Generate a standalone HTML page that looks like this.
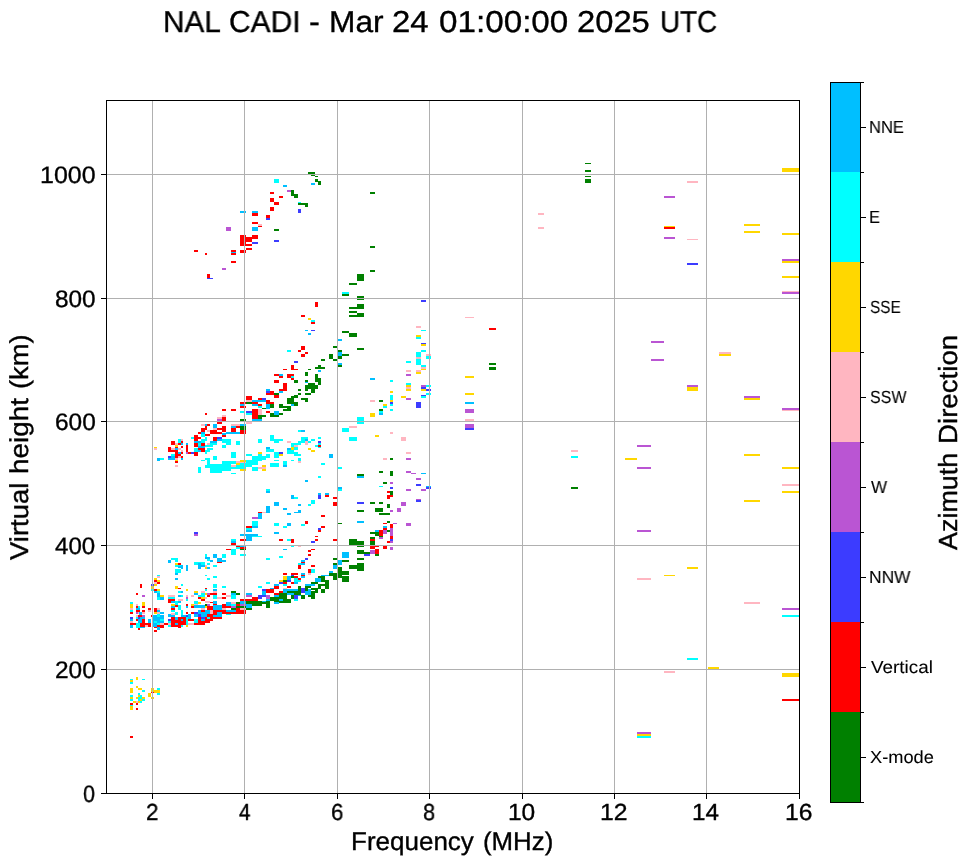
<!DOCTYPE html>
<html lang="en"><head><meta charset="utf-8"><title>NAL CADI - Mar 24 01:00:00 2025 UTC</title>
<style>
html,body{margin:0;padding:0;background:#fff;}
body{width:972px;height:865px;position:relative;overflow:hidden;font-family:"Liberation Sans",sans-serif;color:#000;}
.abs{position:absolute;}
.ln{position:absolute;background:#000;}
.gr{position:absolute;background:#b0b0b0;}
.t{position:absolute;white-space:nowrap;line-height:1;transform-origin:0 0;will-change:transform;text-rendering:geometricPrecision;-webkit-text-stroke:0.35px #000;}
.s{-webkit-text-stroke:0.1px #000;}
</style></head>
<body>
<!-- data -->
<svg class="abs" style="left:0;top:0" width="972" height="865" viewBox="0 0 972 865" shape-rendering="crispEdges">
<path fill="#008000" d="M291 190H294V196H291zM294 194H298V198H294zM274 229H279V231H274zM308 172H315V174H308zM311 175H315V176H311zM315 176H318V177H315zM315 179H318V182H315zM318 181H321V185H318zM370 192H375V194H370zM305 205H308V207H305zM370 246H375V248H370zM370 270H375V272H370zM357 274H364V281H357zM349 283H357V285H349zM342 294H349V296H342zM357 296H364V300H357zM357 304H364V309H357zM349 307H357V309H349zM349 311H357V313H349zM357 313H364V317H357zM349 315H357V317H349zM342 331H349V333H342zM349 333H357V337H349zM333 346H337V348H333zM357 348H360V350H357zM338 350H342V352H338zM342 354H349V356H342zM338 356H342V359H338zM329 354H333V359H329zM333 359H337V361H333zM321 359H325V361H321zM338 365H342V367H338zM308 369H311V370H308zM318 365H321V367H318zM315 367H325V369H315zM305 372H308V376H305zM315 374H318V378H315zM315 378H321V382H315zM318 382H321V385H318zM294 380H298V383H294zM305 380H308V382H305zM308 383H315V389H308zM305 385H318V389H305zM311 389H315V393H311zM305 393H311V395H305zM298 389H301V391H298zM305 389H308V391H305zM298 393H301V395H298zM274 393H279V395H274zM357 348H364V350H357zM379 400H383V402H379zM379 409H383V411H379zM390 458H393V460H390zM379 471H383V473H379zM390 471H393V476H390zM357 474H364V476H357zM383 482H387V484H383zM390 491H393V495H390zM370 502H375V504H370zM379 502H383V504H379zM387 504H390V508H387zM375 508H383V512H375zM357 510H364V512H357zM379 513H390V515H379zM340 523H342V524H340zM387 521H390V523H387zM387 530H390V532H387zM370 532H379V534H370zM375 534H379V536H375zM379 536H383V537H379zM370 537H375V539H370zM370 541H375V545H370zM349 539H357V545H349zM357 541H364V545H357zM357 546H364V547H357zM357 550H364V554H357zM364 552H370V554H364zM375 554H379V556H375zM357 558H364V560H357zM342 560H349V562H342zM357 563H364V571H357zM349 565H357V569H349zM340 571H349V575H340zM338 567H342V578H338zM342 576H349V582H342zM294 395H298V398H294zM291 396H294V399H291zM287 398H294V404H287zM301 398H308V400H301zM305 400H308V402H305zM294 402H298V406H294zM279 404H283V408H279zM283 406H291V408H283zM287 408H291V411H287zM283 409H287V411H283zM246 402H252V404H246zM270 404H274V408H270zM262 408H266V409H262zM270 413H274V417H270zM274 415H279V417H274zM279 413H283V415H279zM258 415H262V419H258zM262 415H266V417H262zM240 419H246V421H240zM240 426H246V430H240zM240 549H246V550H240zM338 523H342V524H338zM231 591H236V593H231zM236 593H240V595H236zM205 604H207V606H205zM236 602H240V604H236zM236 606H240V608H236zM231 608H236V610H231zM291 576H294V578H291zM298 586H301V595H298zM287 591H298V595H287zM279 593H287V601H279zM305 586H308V591H305zM308 586H311V588H308zM311 588H318V590H311zM315 590H318V593H315zM308 591H315V593H308zM311 593H315V599H311zM308 595H311V597H308zM311 582H318V584H311zM318 576H325V578H318zM321 578H325V582H321zM325 580H329V589H325zM318 584H325V586H318zM318 586H321V589H318zM321 589H325V593H321zM329 573H333V576H329zM333 573H337V580H333zM333 558H337V560H333zM333 563H337V565H333zM342 571H349V575H342zM349 565H357V569H349zM342 560H349V562H342zM270 597H279V601H270zM274 601H279V602H274zM279 601H291V603H279zM287 599H291V602H287zM291 595H294V599H291zM301 595H305V599H301zM246 601H262V606H246zM266 601H270V608H266zM262 602H266V604H262zM236 606H246V608H236zM246 608H252V610H246zM585 163H591V164H585zM585 170H591V172H585zM585 176H591V177H585zM585 179H591V183H585zM489 363H496V365H489zM489 367H496V370H489zM571 487H578V489H571z"/>
<path fill="#ff0000" d="M270 192H274V194H270zM279 196H283V198H279zM270 198H274V202H270zM274 202H279V205H274zM270 207H274V211H270zM252 213H258V216H252zM266 215H270V218H266zM252 222H258V224H252zM240 235H246V246H240zM246 237H252V241.5H246zM252 235H258V239H252zM246 244H252V246H246zM246 248H252V250H246zM240 250H246V253H240zM231 250H236V252H231zM231 253H236V255H231zM194 250H198V252H194zM205 253H207V255H205zM231 261H236V263H231zM207 274H210V278H207zM301 315H305V317H301zM315 302H318V307H315zM311 322H315V324H311zM301 346H305V350H301zM298 350H301V352H298zM305 352H308V354H305zM301 354H305V357H301zM291 365H294V370H291zM294 369H298V370H294zM283 369H287V370H283zM274 374H279V376H274zM279 376H283V378H279zM287 374H294V378H287zM291 378H294V380H291zM274 380H279V383H274zM283 383H287V391H283zM279 389H287V391H279zM270 391H274V395H270zM266 393H270V395H266zM387 491H390V493H387zM387 495H393V497H387zM387 497H390V499H387zM383 523H387V524H383zM390 524H393V528H390zM383 528H387V530H383zM379 530H383V536H379zM390 536H393V539H390zM387 541H390V543H387zM370 539H375V541H370zM370 546H375V549H370zM375 546H379V547H375zM383 546H387V549H383zM375 549H379V554H375zM274 395H279V398H274zM246 396H252V400H246zM258 398H262V400H258zM266 400H270V404H266zM270 402H274V404H270zM240 402H246V404H240zM252 402H258V404H252zM258 404H262V406H258zM240 406H246V408H240zM252 409H258V419H252zM266 411H270V413H266zM240 430H246V434H240zM318 445H321V447H318zM222 409H226V411H222zM231 409H236V411H231zM205 413H207V415H205zM222 417H226V421H222zM217 422H222V424H217zM207 424H210V426H207zM236 426H240V428H236zM231 428H236V432H231zM222 426H226V432H222zM217 428H222V430H217zM205 426H207V430H205zM201 428H205V432H201zM210 430H217V434H210zM217 432H222V434H217zM198 432H201V434H198zM205 434H210V436H205zM222 435H226V437H222zM194 435H198V441H194zM198 437H201V439H198zM213 437H217V441H213zM194 443H198V447H194zM201 443H205V447H201zM198 448H205V452H198zM194 452H198V456H194zM186 445H188V452H186zM188 452H191V454H188zM171 441H175V445H171zM178 443H181V445H178zM181 441H183V443H181zM181 446H183V448H181zM175 447H178V448H175zM168 447H171V452H168zM171 450H178V452H171zM175 452H178V458H175zM181 452H183V454H181zM178 454H181V456H178zM181 456H183V458H181zM175 461H178V463H175zM258 512H260V513H258zM246 526H252V528H246zM240 539H246V541H240zM231 543H236V545H231zM236 546H240V547H236zM240 547H246V549H240zM226 549H231V550H226zM325 495H329V497H325zM333 497H337V499H333zM333 502H337V506H333zM258 512H262V513H258zM321 515H325V517H321zM305 521H308V524H305zM321 526H325V528H321zM318 530H321V532H318zM315 536H318V537H315zM279 539H283V541H279zM291 539H294V543H291zM315 539H318V541H315zM333 539H337V541H333zM217 562H222V563H217zM178 563H181V565H178zM205 588H207V589H205zM154 580H157V582H154zM157 582H160V584H157zM154 589H157V591H154zM140 584H142V588H140zM136 593H138V595H136zM178 588H181V589H178zM168 599H175V603H168zM175 605H178V607H175zM171 608H175V610H171zM186 604H188V606H186zM186 612H188V614H186zM198 597H201V599H198zM201 599H205V601H201zM210 593H217V595H210zM207 595H210V597H207zM222 593H226V595H222zM222 597H226V599H222zM191 606H194V608H191zM210 602H213V603H210zM213 604H217V606H213zM207 606H213V612H207zM222 604H226V608H222zM236 604H240V606H236zM236 608H240V613H236zM226 606H231V608H226zM222 610H226V614H222zM213 610H222V615H213zM226 612H236V614H226zM191 612H194V614H191zM207 614H213V617H207zM205 617H213V621H205zM213 617H222V619H213zM198 617H201V625H198zM188 619H194V621H188zM201 621H205V625H201zM194 623H198V625H194zM205 621H210V623H205zM130 612H133V614H130zM130 623H136V625H130zM136 606H138V608H136zM136 610H140V612H136zM138 615H142V617H138zM136 619H138V621H136zM142 606H145V608H142zM142 610H145V612H142zM142 619H145V625H142zM145 623H151V625H145zM148 608H151V610H148zM151 615H154V617H151zM154 608H157V612H154zM164 623H168V625H164zM140 623H151V627H140zM138 628H140V630H138zM157 625H164V628H157zM154 627H157V628H154zM154 630H157V632H154zM171 625H181V627H171zM178 627H181V628H178zM151 692H154V693H151zM130 703H133V705H130zM136 703H138V705H136zM136 708H138V710H136zM130 736H133V738H130zM308 550H311V552H308zM311 549H315V550H311zM308 554H311V556H308zM301 562H305V563H301zM298 565H301V569H298zM311 565H315V567H311zM308 569H311V573H308zM283 573H287V575H283zM291 573H298V575H291zM301 575H305V576H301zM294 576H298V578H294zM283 582H287V584H283zM298 578H301V580H298zM291 582H294V584H291zM287 586H291V588H287zM274 586H279V589H274zM266 589H274V593H266zM279 591H283V593H279zM274 593H279V595H274zM252 597H258V601H252zM240 599H252V601H240zM236 610H246V614H236zM664 227H675V229H664zM782 699H799V701H782zM489 328H496V330H489z"/>
<path fill="#3c3cff" d="M298 209H301V213H298zM266 218H270V220H266zM252 242H258V244H252zM274 240H279V242H274zM207 278H213V279H207zM311 330H315V331H311zM294 361H298V363H294zM266 391H270V393H266zM421 300H426V302H421zM421 343H426V344H421zM421 387H426V389H421zM426 389H431V391H426zM421 395H426V396H421zM390 402H393V404H390zM416 402H421V408H416zM416 484H421V486H416zM390 487H393V489H390zM426 487H431V489H426zM416 500H421V502H416zM357 502H364V504H357zM390 539H393V541H390zM364 554H370V556H364zM262 398H266V400H262zM246 411H252V413H246zM318 441H321V443H318zM279 452H283V454H279zM217 437H222V439H217zM191 452H194V454H191zM194 532H198V534H194zM318 495H321V499H318zM318 528H321V530H318zM311 541H315V543H311zM151 584H154V586H151zM194 612H198V614H194zM198 614H201V617H198zM201 617H205V619H201zM186 615H188V617H186zM168 619H171V621H168zM130 617H133V619H130zM138 617H140V619H138zM305 558H308V560H305zM291 575H294V576H291zM287 580H291V582H287zM279 582H283V584H279zM262 589H266V591H262zM301 588H305V593H301zM258 595H266V597H258zM258 597H262V599H258zM294 595H298V599H294zM687 263H698V265H687zM465 428H474V430H465z"/>
<path fill="#ba55d3" d="M287 190H291V192H287zM226 227H231V231H226zM222 268H226V270H222zM406 374H411V376H406zM421 385H426V387H421zM406 398H411V400H406zM406 458H411V460H406zM406 471H411V473H406zM411 473H416V474H411zM416 478H421V480H416zM390 482H393V484H390zM406 489H411V491H406zM421 489H426V491H421zM416 499H421V500H416zM401 502H406V506H401zM390 510H393V512H390zM397 508H401V512H397zM393 523H397V524H393zM406 523H411V526H406zM390 528H393V536H390zM383 530H387V534H383zM379 537H383V539H379zM390 541H393V543H390zM390 547H393V550H390zM370 550H375V554H370zM217 419H222V421H217zM186 452H188V454H186zM194 534H198V536H194zM252 517H258V519H252zM142 595H145V597H142zM186 597H188V599H186zM207 593H210V595H207zM207 604H210V606H207zM231 606H236V608H231zM136 612H138V614H136zM142 615H145V617H142zM246 595H252V597H246zM266 595H270V599H266zM240 604H246V606H240zM664 196H675V198H664zM664 237H675V239H664zM782 259H799V261H782zM782 292H799V294H782zM651 341H664V343H651zM651 359H664V361H651zM687 385H698V387H687zM744 396H760V398H744zM782 408H799V409.5H782zM782 608H799V610H782zM637 732H651V734H637zM465 409H474V413H465zM465 424H474V428H465zM637 445H651V447H637zM637 467H651V469H637zM637 530H651V532H637z"/>
<path fill="#ffb6c1" d="M258 224H262V226H258zM416 326H421V328H416zM416 357H421V359H416zM426 354H431V356H426zM421 367H426V369H421zM406 370H411V372H406zM416 370H421V372H416zM406 387H411V389H406zM370 400H375V402H370zM353 426H357V428H353zM390 432H393V434H390zM401 437H406V441H401zM406 452H411V454H406zM383 458H387V460H383zM246 400H252V402H246zM258 409H262V415H258zM246 422H252V424H246zM287 441H291V443H287zM305 441H308V445H305zM294 445H298V447H294zM298 461H301V463H298zM258 467H266V469H258zM349 426H357V428H349zM222 415H226V417H222zM217 417H222V419H217zM201 424H205V426H201zM231 424H240V426H231zM213 428H217V430H213zM207 430H210V432H207zM207 443H210V445H207zM181 439H183V441H181zM175 443H178V445H175zM171 448H175V450H171zM178 448H181V450H178zM181 450H183V452H181zM178 456H181V458H178zM175 458H178V460H175zM175 465H178V467H175zM154 448H157V450H154zM236 461H240V463H236zM231 465H236V467H231zM262 512H266V513H262zM205 565H207V567H205zM213 591H217V593H213zM157 576H160V578H157zM154 582H157V584H154zM186 595H188V597H186zM178 599H183V601H178zM168 595H175V597H168zM191 595H194V597H191zM201 591H205V593H201zM205 597H207V599H205zM226 595H231V597H226zM217 597H222V599H217zM194 604H198V606H194zM205 601H210V603H205zM231 602H236V604H231zM222 608H226V610H222zM201 608H205V610H201zM168 623H171V625H168zM188 623H194V625H188zM130 608H133V610H130zM130 621H133V623H130zM136 604H138V606H136zM138 612H140V614H138zM136 615H138V617H136zM142 612H145V614H142zM148 610H151V612H148zM157 608H160V610H157zM157 612H160V614H157zM160 623H164V625H160zM136 701H138V703H136zM298 546H301V547H298zM308 573H311V575H308zM283 588H287V589H283zM240 608H246V610H240zM538 213H544V215H538zM538 227H544V229H538zM687 181H698V183H687zM687 239H698V240H687zM782 291H799V292H782zM719 352H731V354H719zM782 409.5H799V411H782zM782 484H799V486H782zM637 578H651V580H637zM744 602H760V604H744zM664 671H675V673H664zM465 317H474V318H465zM465 419H474V421H465zM571 450H578V452H571z"/>
<path fill="#ffd700" d="M308 318H311V320H308zM416 335H421V337H416zM421 344H426V346H421zM421 369H426V370H421zM416 372H421V374H416zM406 385H411V387H406zM406 389H411V391H406zM421 389H426V391H421zM390 391H393V393H390zM390 400H393V402H390zM401 396H406V398H401zM383 404H387V406H383zM370 413H375V417H370zM375 435H379V437H375zM291 447H294V450H291zM308 448H311V450H308zM311 450H315V452H311zM258 452H262V454H258zM279 454H283V456H279zM240 460H246V462H240zM262 465H266V467H262zM262 469H266V470H262zM240 469H246V470H240zM175 445H178V447H175zM175 460H178V461H175zM154 447H157V448H154zM236 463H240V465H236zM240 469H246V471H240zM262 469H266V471H262zM175 563H178V565H175zM205 567H207V569H205zM154 578H157V580H154zM157 580H160V582H157zM154 584H157V586H154zM151 586H154V589H151zM157 589H160V591H157zM160 595H164V597H160zM175 586H178V589H175zM186 589H188V591H186zM171 604H175V606H171zM194 591H198V593H194zM201 597H205V599H201zM205 593H207V595H205zM198 602H201V604H198zM191 604H194V606H191zM205 606H207V608H205zM130 604H133V608H130zM142 602H145V606H142zM154 612H157V614H154zM186 625H188V627H186zM130 680H133V682H130zM136 677H138V680H136zM136 686H138V688H136zM138 688H142V690H138zM130 688H133V693H130zM151 688H154V692H151zM154 690H160V693H154zM148 693H151V697H148zM151 697H154V699H151zM130 697H133V699H130zM138 695H140V697H138zM136 697H138V699H136zM142 697H145V699H142zM140 699H142V701H140zM133 701H136V703H133zM138 701H140V703H138zM130 706H133V710H130zM283 576H287V581H283zM279 580H283V582H279zM664 226H675V227H664zM782 168H799V172H782zM744 224H760V226H744zM744 231H760V233H744zM782 233H799V235H782zM782 261H799V263H782zM782 276H799V278H782zM719 354H731V356H719zM687 387H698V391H687zM744 398H760V400H744zM744 454H760V456H744zM782 467H799V469H782zM782 491H799V493H782zM744 500H760V502H744zM687 567H698V569H687zM664 575H675V576H664zM708 667H719V669H708zM782 673H799V677H782zM637 734H651V736H637zM465 376H474V378H465zM465 393H474V395H465zM625 458H637V460H625z"/>
<path fill="#00ffff" d="M274 179H279V183H274zM298 201.8H301V203H298zM342 292H349V294H342zM311 320H315V322H311zM287 350H291V352H287zM421 330H426V331H421zM416 337H421V339H416zM421 350H426V352H421zM416 352H421V357H416zM416 359H421V365H416zM426 356H431V359H426zM406 361H411V363H406zM421 365H426V367H421zM390 380H393V382H390zM406 383H411V385H406zM426 385H431V387H426zM426 393H431V395H426zM421 396H426V398H421zM390 395H393V400H390zM390 404H393V406H390zM390 409H393V411H390zM383 406H387V408H383zM379 411H383V413H379zM357 417H364V424H357zM353 437H357V441H353zM379 486H383V487H379zM258 406H262V408H258zM240 411H244V413H240zM246 413H252V415H246zM298 430H301V432H298zM270 435H274V441H270zM274 439H283V441H274zM274 441H279V443H274zM258 439H262V443H258zM301 437H308V441H301zM318 437H321V439H318zM311 439H315V441H311zM298 441H305V443H298zM308 441H311V443H308zM318 443H321V445H318zM315 445H318V447H315zM318 447H321V448H318zM291 443H301V445H291zM291 445H294V447H291zM294 447H298V450H294zM287 450H294V454H287zM294 452H298V456H294zM298 454H301V456H298zM274 452H279V458H274zM246 454H252V456H246zM258 454H262V458H258zM266 454H270V458H266zM252 456H258V464H252zM262 456H266V460H262zM258 458H262V461H258zM298 458H301V461H298zM291 460H294V461H291zM274 460H279V461H274zM283 461H287V465H283zM270 463H279V467H270zM321 463H325V465H321zM338 467H342V469H338zM240 463H246V467H240zM246 460H258V465H246zM246 465H252V467H246zM252 467H258V470H252zM342 428H349V432H342zM349 437H357V441H349zM201 434H205V437H201zM191 437H194V439H191zM205 437H207V441H205zM201 439H205V443H201zM222 439H231V443H222zM226 443H231V445H226zM236 441H240V445H236zM198 443H201V447H198zM210 443H217V445H210zM205 445H213V447H205zM222 445H226V448H222zM194 448H198V452H194zM207 448H213V450H207zM205 450H210V452H205zM205 452H207V454H205zM178 439H181V443H178zM171 454H175V456H171zM160 458H164V460H160zM231 452H236V458H231zM213 456H217V460H213zM205 458H210V460H205zM201 460H205V461H201zM207 460H210V466H207zM205 465H210V468H205zM210 464H222V473H210zM222 461H231V471H222zM231 461H236V464H231zM231 467H240V469H231zM236 465H240V467H236zM252 467H258V471H252zM198 467H201V473H198zM231 473H236V474H231zM240 463H246V469H240zM252 521H258V526H252zM246 528H252V530H246zM231 539H236V541H231zM236 547H240V549H236zM231 549H236V555H231zM205 554H207V555H205zM222 554H226V555H222zM240 554H246V555H240zM318 476H321V478H318zM338 489H342V491H338zM266 489H270V491H266zM294 497H298V499H294zM311 500H315V504H311zM308 504H311V506H308zM274 523H279V526H274zM283 526H287V528H283zM301 524H305V526H301zM287 539H291V541H287zM222 554H226V558H222zM205 554H207V557H205zM207 559H210V561H207zM171 558H178V560H171zM175 560H178V562H175zM175 565H181V567H175zM175 569H181V573H175zM194 562H205V565H194zM207 563H210V565H207zM213 565H217V567H213zM205 575H207V576H205zM213 576H217V578H213zM207 578H210V580H207zM213 584H217V588H213zM222 586H226V588H222zM205 589H207V591H205zM157 575H160V576H157zM151 589H154V591H151zM157 591H160V593H157zM157 597H160V600H157zM181 584H183V586H181zM178 591H181V593H178zM181 595H183V597H181zM186 599H188V601H186zM168 597H175V599H168zM175 601H178V605H175zM178 605H181V610H178zM171 610H175V612H171zM198 595H205V597H198zM201 593H205V595H201zM213 595H217V599H213zM231 595H236V599H231zM194 601H198V604H194zM231 604H236V606H231zM226 614H231V615H226zM194 619H198V623H194zM186 617H188V625H186zM181 610H183V615H181zM168 621H171V623H168zM175 612H178V615H175zM130 602H133V604H130zM130 610H133V612H130zM138 606H140V608H138zM136 617H138V619H136zM136 623H140V625H136zM157 623H160V625H157zM136 623H140V628H136zM168 625H171V627H168zM181 625H183V627H181zM130 679H133V680H130zM130 682H133V684H130zM142 679H145V680H142zM142 690H145V692H142zM138 693H140V695H138zM157 688H160V690H157zM157 693H160V695H157zM130 695H133V697H130zM130 699H133V701H130zM140 695H142V699H140zM138 697H140V701H138zM142 699H145V701H142zM140 701H142V703H140zM130 705H133V706H130zM240 554H246V556H240zM291 546H294V547H291zM266 558H270V560H266zM279 556H283V558H279zM298 563H301V565H298zM311 569H315V573H311zM294 578H298V582H294zM298 580H301V582H298zM283 584H287V586H283zM266 582H270V584H266zM258 586H262V588H258zM294 599H298V601H294zM782 615H799V617H782zM687 658H698V660H687zM637 736H651V738H637zM571 456H578V458H571z"/>
<path fill="#00bfff" d="M283 185H287V187H283zM240 211H246V213H240zM252 211H258V213H252zM252 227H258V231H252zM311 183H315V185H311zM231 252H236V253H231zM305 330H308V331H305zM308 333H311V335H308zM338 339H342V341H338zM338 352H342V356H338zM338 363H342V365H338zM318 370H321V372H318zM279 374H283V376H279zM305 382H308V383H305zM279 391H283V393H279zM266 389H270V391H266zM370 378H375V380H370zM379 413H383V415H379zM421 473H426V474H421zM357 476H364V478H357zM426 486H431V487H426zM357 521H364V523H357zM383 526H387V528H383zM375 530H379V532H375zM342 552H349V558H342zM338 560H342V565H338zM291 404H294V406H291zM252 400H266V402H252zM252 404H258V406H252zM240 404H244V406H240zM266 404H270V409H266zM274 411H279V415H274zM252 419H262V421H252zM240 424H246V426H240zM301 430H305V432H301zM287 448H291V450H287zM266 447H270V450H266zM329 454H333V458H329zM283 465H287V467H283zM205 424H207V426H205zM213 424H217V428H213zM231 426H236V428H231zM226 432H240V434H226zM222 433H226V435H222zM201 432H205V434H201zM217 439H222V441H217zM194 441H201V443H194zM210 441H217V443H210zM186 443H188V445H186zM181 443H183V445H181zM175 448H178V450H175zM178 452H181V454H178zM168 456H175V460H168zM181 458H183V460H181zM157 458H160V461H157zM252 526H258V528H252zM246 530H252V532H246zM240 534H258V536H240zM246 536H252V541H246zM231 541H236V543H231zM240 546H246V547H240zM213 554H217V555H213zM305 480H308V482H305zM338 487H342V489H338zM266 491H270V493H266zM318 493H321V495H318zM325 493H329V495H325zM291 495H294V499H291zM274 502H279V506H274zM298 504H301V506H298zM266 506H270V513H266zM283 508H287V510H283zM298 510H301V513H298zM294 512H298V513H294zM287 513H291V515H287zM258 513H262V519H258zM287 523H291V526H287zM274 532H279V534H274zM213 554H217V558H213zM205 557H210V559H205zM217 558H222V562H217zM222 560H226V562H222zM210 560H213V562H210zM168 560H171V563H168zM181 565H183V569H181zM186 565H188V571H186zM175 573H178V575H175zM175 578H178V580H175zM201 565H205V567H201zM207 567H210V569H207zM213 589H217V591H213zM154 591H157V593H154zM157 593H160V597H157zM160 597H164V600H160zM181 591H183V593H181zM178 595H181V597H178zM178 601H181V603H178zM171 606H175V608H171zM186 606H188V608H186zM194 593H198V595H194zM231 593H236V595H231zM213 601H217V604H213zM226 602H231V606H226zM226 610H236V612H226zM194 614H198V617H194zM201 612H207V617H201zM213 615H222V617H213zM201 619H205V621H201zM188 614H191V619H188zM181 615H186V619H181zM168 614H175V617H168zM130 619H133V621H130zM136 608H140V610H136zM140 617H145V619H140zM138 619H142V623H138zM148 619H151V623H148zM157 610H160V612H157zM160 612H164V614H160zM130 625H133V628H130zM140 627H145V628H140zM283 549H287V550H283zM301 560H305V562H301zM301 563H305V565H301zM301 573H305V575H301zM301 576H305V578H301zM287 576H291V580H287zM294 582H298V584H294zM274 584H279V586H274zM270 588H274V589H270zM262 591H266V595H262zM283 589H287V593H283zM274 595H279V597H274zM287 589H298V591H287zM305 584H315V586H305zM308 589H311V591H308zM315 578H321V582H315zM321 575H329V576H321zM329 571H333V573H329zM333 565H337V569H333zM246 593H252V595H246zM266 599H270V601H266zM274 602H279V604H274zM298 595H301V596H298zM240 601H246V604H240zM262 601H266V602H262zM465 402H474V404H465z"/>
<path fill="#008000" d="M298 202.5H305V205H298zM300 202.5H308V205H300zM283 580H287V582H283z"/>
<path fill="#ff0000" d="M258 225.7H262V227H258zM171 617H186V625H171z"/>
<path fill="#3c3cff" d="M168 456H171V458H168z"/>
<path fill="#ffb6c1" d="M240 461.5H246V463H240zM210 610H213V614H210zM171 613H175V615H171zM145 625H148V627H145z"/>
<path fill="#00ffff" d="M291 376H294V378H291zM266 449H274V452H266zM252 535.7H262V537H252zM207 617H210V619H207z"/>
<path fill="#00bfff" d="M305 439H308V441H305zM198 446H205V448H198zM198 450H201V452H198zM178 566H181V568H178zM198 563H201V569H198zM171 601H175V603H171zM194 605H205V608H194zM213 605H222V610H213zM217 612H222V617H217zM198 610H210V614H198zM139 612H142V615H139zM153 615H164V623H153zM157 627H160V630H157zM287 593H294V595H287zM305 591H311V595H305zM279 599H283V601H279zM246 604H252V608H246z"/>
<path fill="#ff0000" d="M201 610H205V612H201z"/>
<path fill="#00ffff" d="M157 614H160V617H157zM160 619H164V621H160zM154 621H157V624H154z"/>
<path fill="#00bfff" d="M175 617H178V620H175zM181 619H183V621H181zM175 623H178V625H175z"/>
<path fill="#00bfff" d="M153 623H157V627H153z"/>
</svg>
<!-- grid -->
<div class="gr" style="left:152px;top:101px;width:1px;height:692px"></div>
<div class="gr" style="left:244px;top:101px;width:1px;height:692px"></div>
<div class="gr" style="left:337px;top:101px;width:1px;height:692px"></div>
<div class="gr" style="left:429px;top:101px;width:1px;height:692px"></div>
<div class="gr" style="left:522px;top:101px;width:1px;height:692px"></div>
<div class="gr" style="left:614px;top:101px;width:1px;height:692px"></div>
<div class="gr" style="left:706px;top:101px;width:1px;height:692px"></div>
<div class="gr" style="left:107px;top:669px;width:692px;height:1px"></div>
<div class="gr" style="left:107px;top:545px;width:692px;height:1px"></div>
<div class="gr" style="left:107px;top:421px;width:692px;height:1px"></div>
<div class="gr" style="left:107px;top:298px;width:692px;height:1px"></div>
<div class="gr" style="left:107px;top:174px;width:692px;height:1px"></div>
<!-- spines -->
<div class="ln" style="left:106px;top:100px;width:694px;height:1px"></div>
<div class="ln" style="left:106px;top:793px;width:694px;height:1px"></div>
<div class="ln" style="left:106px;top:100px;width:1px;height:694px"></div>
<div class="ln" style="left:799px;top:100px;width:1px;height:694px"></div>
<div class="ln" style="left:152px;top:794px;width:1px;height:5px"></div>
<div class="ln" style="left:244px;top:794px;width:1px;height:5px"></div>
<div class="ln" style="left:337px;top:794px;width:1px;height:5px"></div>
<div class="ln" style="left:429px;top:794px;width:1px;height:5px"></div>
<div class="ln" style="left:522px;top:794px;width:1px;height:5px"></div>
<div class="ln" style="left:614px;top:794px;width:1px;height:5px"></div>
<div class="ln" style="left:706px;top:794px;width:1px;height:5px"></div>
<div class="ln" style="left:799px;top:794px;width:1px;height:5px"></div>
<div class="ln" style="left:101px;top:793px;width:5px;height:1px"></div>
<div class="ln" style="left:101px;top:669px;width:5px;height:1px"></div>
<div class="ln" style="left:101px;top:545px;width:5px;height:1px"></div>
<div class="ln" style="left:101px;top:421px;width:5px;height:1px"></div>
<div class="ln" style="left:101px;top:298px;width:5px;height:1px"></div>
<div class="ln" style="left:101px;top:174px;width:5px;height:1px"></div>
<!-- text -->
<div class="t" style="left:163.22px;top:7.68px;font-size:30.29px;transform:scaleX(0.9841)">NAL</div>
<div class="t" style="left:228.77px;top:7.81px;font-size:30.29px;transform:scaleX(0.9897)">CADI</div>
<div class="t" style="left:309.33px;top:7.77px;font-size:30.29px;transform:scaleX(1.0780)">-</div>
<div class="t" style="left:328.76px;top:7.70px;font-size:30.29px;transform:scaleX(1.0463)">Mar</div>
<div class="t" style="left:392.45px;top:7.77px;font-size:30.29px;transform:scaleX(1.0866)">24</div>
<div class="t" style="left:438.67px;top:7.81px;font-size:30.29px;transform:scaleX(1.0970)">01:00:00</div>
<div class="t" style="left:577.36px;top:7.81px;font-size:30.29px;transform:scaleX(1.0809)">2025</div>
<div class="t" style="left:660.01px;top:7.79px;font-size:30.29px;transform:scaleX(0.9207)">UTC</div>
<div class="t" style="left:350.82px;top:829.77px;font-size:25.65px;transform:scaleX(1.0141)">Frequency</div>
<div class="t" style="left:482.65px;top:829.70px;font-size:25.65px;transform:scaleX(1.0076)">(MHz)</div>
<div class="t" style="left:7.83px;top:559.64px;font-size:25.94px;transform:rotate(-90deg) scaleX(1.0574)">Virtual</div>
<div class="t" style="left:7.80px;top:474.05px;font-size:25.94px;transform:rotate(-90deg) scaleX(1.0741)">height</div>
<div class="t" style="left:7.78px;top:389.44px;font-size:25.94px;transform:rotate(-90deg) scaleX(1.0547)">(km)</div>
<div class="t" style="left:934.89px;top:549.53px;font-size:26.23px;transform:rotate(-90deg) scaleX(1.0263)">Azimuth</div>
<div class="t" style="left:934.89px;top:443.91px;font-size:26.23px;transform:rotate(-90deg) scaleX(1.0554)">Direction</div>
<div class="t" style="left:146.25px;top:800.93px;font-size:23.24px;transform:scaleX(0.9684)">2</div>
<div class="t" style="left:238.87px;top:800.93px;font-size:23.24px;transform:scaleX(0.8813)">4</div>
<div class="t" style="left:331.27px;top:800.93px;font-size:23.24px;transform:scaleX(0.9579)">6</div>
<div class="t" style="left:423.40px;top:800.93px;font-size:23.24px;transform:scaleX(0.9375)">8</div>
<div class="t" style="left:508.47px;top:800.93px;font-size:23.24px;transform:scaleX(1.0544)">10</div>
<div class="t" style="left:600.45px;top:800.93px;font-size:23.24px;transform:scaleX(1.0651)">12</div>
<div class="t" style="left:692.49px;top:800.93px;font-size:23.24px;transform:scaleX(1.0439)">14</div>
<div class="t" style="left:785.46px;top:800.93px;font-size:23.24px;transform:scaleX(1.0597)">16</div>
<div class="t" style="left:83.30px;top:783.06px;font-size:23.80px;transform:scaleX(0.9057)">0</div>
<div class="t" style="left:54.66px;top:659.08px;font-size:23.80px;transform:scaleX(1.0275)">200</div>
<div class="t" style="left:55.28px;top:535.06px;font-size:23.80px;transform:scaleX(1.0114)">400</div>
<div class="t" style="left:54.66px;top:411.06px;font-size:23.80px;transform:scaleX(1.0275)">600</div>
<div class="t" style="left:54.78px;top:288.04px;font-size:23.80px;transform:scaleX(1.0242)">800</div>
<div class="t" style="left:39.87px;top:164.06px;font-size:23.80px;transform:scaleX(1.0485)">1000</div>
<div class="t s" style="left:869.48px;top:118.66px;font-size:17.54px;transform:scaleX(0.9428)">NNE</div>
<div class="t s" style="left:869.48px;top:208.66px;font-size:17.54px;transform:scaleX(0.9417)">E</div>
<div class="t s" style="left:870.11px;top:298.66px;font-size:17.54px;transform:scaleX(0.8725)">SSE</div>
<div class="t s" style="left:870.08px;top:388.66px;font-size:17.54px;transform:scaleX(0.9104)">SSW</div>
<div class="t s" style="left:870.71px;top:478.66px;font-size:17.54px;transform:scaleX(0.9697)">W</div>
<div class="t s" style="left:869.41px;top:568.66px;font-size:17.54px;transform:scaleX(0.9896)">NNW</div>
<div class="t s" style="left:870.71px;top:658.66px;font-size:17.54px;transform:scaleX(1.0764)">Vertical</div>
<div class="t s" style="left:870.34px;top:748.66px;font-size:17.54px;transform:scaleX(1.0391)">X-mode</div>
<!-- colorbar -->
<div class="abs" style="left:830px;top:82px;width:31px;height:90px;background:#00bfff"></div>
<div class="abs" style="left:830px;top:172px;width:31px;height:90px;background:#00ffff"></div>
<div class="abs" style="left:830px;top:262px;width:31px;height:90px;background:#ffd700"></div>
<div class="abs" style="left:830px;top:352px;width:31px;height:90px;background:#ffb6c1"></div>
<div class="abs" style="left:830px;top:442px;width:31px;height:90px;background:#ba55d3"></div>
<div class="abs" style="left:830px;top:532px;width:31px;height:90px;background:#3c3cff"></div>
<div class="abs" style="left:830px;top:622px;width:31px;height:90px;background:#ff0000"></div>
<div class="abs" style="left:830px;top:712px;width:31px;height:90px;background:#008000"></div>
<div class="abs" style="left:830px;top:82px;width:31px;height:721px;border:1px solid #000;box-sizing:border-box"></div>
<div class="ln" style="left:861px;top:82px;width:3px;height:1px"></div>
<div class="ln" style="left:861px;top:172px;width:3px;height:1px"></div>
<div class="ln" style="left:861px;top:262px;width:3px;height:1px"></div>
<div class="ln" style="left:861px;top:352px;width:3px;height:1px"></div>
<div class="ln" style="left:861px;top:442px;width:3px;height:1px"></div>
<div class="ln" style="left:861px;top:532px;width:3px;height:1px"></div>
<div class="ln" style="left:861px;top:622px;width:3px;height:1px"></div>
<div class="ln" style="left:861px;top:712px;width:3px;height:1px"></div>
<div class="ln" style="left:861px;top:802px;width:3px;height:1px"></div>
<div class="ln" style="left:861px;top:127px;width:5px;height:1px"></div>
<div class="ln" style="left:861px;top:217px;width:5px;height:1px"></div>
<div class="ln" style="left:861px;top:307px;width:5px;height:1px"></div>
<div class="ln" style="left:861px;top:397px;width:5px;height:1px"></div>
<div class="ln" style="left:861px;top:487px;width:5px;height:1px"></div>
<div class="ln" style="left:861px;top:577px;width:5px;height:1px"></div>
<div class="ln" style="left:861px;top:667px;width:5px;height:1px"></div>
<div class="ln" style="left:861px;top:757px;width:5px;height:1px"></div>
</body></html>
